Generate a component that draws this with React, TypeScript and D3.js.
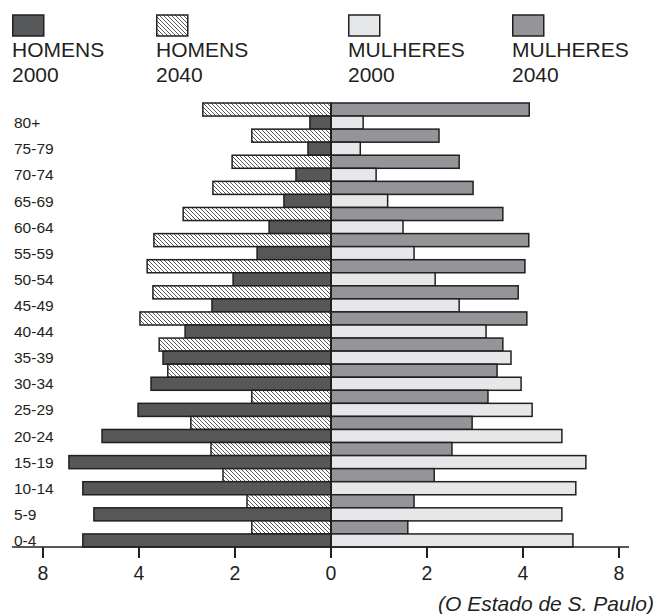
import { scaleBand, scaleLinear } from "d3";
import React from "react";

// age groups, top to bottom
const ages = [
  "80+", "75-79", "70-74", "65-69", "60-64", "55-59", "50-54", "45-49", "40-44",
  "35-39", "30-34", "25-29", "20-24", "15-19", "10-14", "5-9", "0-4"
];

// percentages
const homens2000 = [0.44, 0.48, 0.73, 0.98, 1.29, 1.54, 2.04, 2.48, 3.04, 3.5, 3.75, 4.02, 4.77, 5.46, 5.17, 4.94, 5.17];
const homens2040 = [2.67, 1.65, 2.06, 2.46, 3.08, 3.69, 3.83, 3.71, 3.98, 3.58, 3.4, 1.65, 2.92, 2.5, 2.25, 1.75, 1.65];
const mulheres2000 = [0.67, 0.61, 0.94, 1.18, 1.5, 1.73, 2.17, 2.67, 3.23, 3.75, 3.96, 4.19, 4.81, 5.31, 5.1, 4.81, 5.04];
const mulheres2040 = [4.13, 2.25, 2.67, 2.96, 3.58, 4.12, 4.04, 3.9, 4.08, 3.58, 3.46, 3.27, 2.94, 2.52, 2.15, 1.73, 1.6];

const tickValues = [-6, -4, -2, 0, 2, 4, 6];
const tickLabels = ["8", "4", "2", "0", "2", "4", "8"];

const legendNames = ["HOMENS", "HOMENS", "MULHERES", "MULHERES"];
const legendYears = ["2000", "2040", "2000", "2040"];

const WIDTH = 659;
const HEIGHT = 614;
const STROKE = "#231f20";
const DARK = "#555759";
const LIGHT = "#e6e7e8";
const GRAY = "#939598";
const FONT = "Liberation Sans, Arial, Helvetica, sans-serif";

export default function App() {
  const xScale = scaleLinear().domain([-6, 6]).range([43, 619]);
  const rows = ages.flatMap(a => [a + "|2040", a + "|2000"]);
  const yScale = scaleBand().domain(rows).range([103, 547]).paddingInner(0);
  const bh = yScale.bandwidth();
  const x0 = xScale(0);
  const baseY = 547;

  const legendX = [12, 156, 348, 512];
  const legendFills = [DARK, "url(#hatch)", LIGHT, GRAY];

  return (
    <svg
      width={WIDTH}
      height={HEIGHT}
      style={{ position: "absolute", left: 0, top: 0, background: "#fff" }}
      fontFamily={FONT}
    >
      <defs>
        <pattern id="hatch" width="4" height="4" patternUnits="userSpaceOnUse">
          <rect width="4" height="4" fill="#fff" />
          <path d="M0,0 L4,4 M-1,3 L1,5 M3,-1 L5,1" stroke={STROKE} strokeWidth="0.75" />
        </pattern>
      </defs>

      {/* legend */}
      {legendNames.map((n, i) => (
        <g key={i} transform={`translate(${legendX[i]},0)`}>
          <rect x={0.75} y={15} width={31} height={21} fill={legendFills[i]} stroke={STROKE} strokeWidth={1.5} />
          <text x={0} y={57} fontSize="21" fill={STROKE}>{n}</text>
          <text x={0} y={82} fontSize="21" fill={STROKE}>{legendYears[i]}</text>
        </g>
      ))}

      {/* bars */}
      <g stroke={STROKE} strokeWidth={1.5}>
        {ages.map((a, i) => {
          const y40 = yScale(a + "|2040")!;
          const y00 = yScale(a + "|2000")!;
          return (
            <g key={a}>
              <rect x={xScale(-homens2040[i])} y={y40} width={x0 - xScale(-homens2040[i])} height={bh} fill="url(#hatch)" />
              <rect x={xScale(-homens2000[i])} y={y00} width={x0 - xScale(-homens2000[i])} height={bh} fill={DARK} />
              <rect x={x0} y={y40} width={xScale(mulheres2040[i]) - x0} height={bh} fill={GRAY} />
              <rect x={x0} y={y00} width={xScale(mulheres2000[i]) - x0} height={bh} fill={LIGHT} />
            </g>
          );
        })}
      </g>

      {/* age labels */}
      {ages.map(a => (
        <text
          key={a}
          x={14}
          y={yScale(a + "|2000")! + bh / 2}
          dy="0.36em"
          fontSize="15.5"
          fill={STROKE}
        >
          {a}
        </text>
      ))}

      {/* center line */}
      <line x1={x0} x2={x0} y1={103} y2={baseY} stroke={STROKE} strokeWidth={2} />

      {/* x axis */}
      <g transform={`translate(0, ${baseY})`}>
        <line x1={12} x2={629} stroke={STROKE} strokeWidth={1.5} />
        {tickValues.map((v, i) => (
          <g key={i} transform={`translate(${xScale(v)}, 0)`}>
            <line y2={11} stroke={STROKE} strokeWidth={2} />
            <text y={33} textAnchor="middle" fontSize="19.5" fill={STROKE}>
              {tickLabels[i]}
            </text>
          </g>
        ))}
      </g>

      <text x={654} y={611} textAnchor="end" fontSize="21" fontStyle="italic" fill={STROKE}>
        (O Estado de S. Paulo)
      </text>
    </svg>
  );
}
